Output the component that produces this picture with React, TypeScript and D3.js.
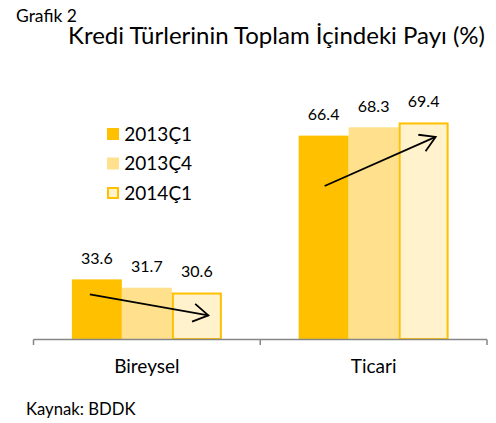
import React from "react";
import * as d3 from "d3";

const categories = ["Bireysel", "Ticari"];
const seriesNames = ["2013Ç1", "2013Ç4", "2014Ç1"];
const values2013Q1 = [33.6, 66.4];
const values2013Q4 = [31.7, 68.3];
const values2014Q1 = [30.6, 69.4];
const seriesValues = [values2013Q1, values2013Q4, values2014Q1];
const fills = ["#FFC000", "#FFE08C", "#FFF2CC"];
const strokes = ["none", "none", "#FFC000"];
// trend arrows: [category index, start (series pos), start value, end (series pos), end value]
const arrows: [number, number, number, number, number][] = [
  [0, 0.36, 30.2, 2.73, 25.4],
  [1, 0.52, 54.9, 2.74, 66.1],
];

const W = 496;
const H = 423;
const FONT = "Lato, 'Noto Sans', sans-serif";

export default function App() {
  const x = d3.scaleBand<string>().domain(categories).range([33.5, 487]).paddingInner(0).paddingOuter(0);
  const xs = d3.scaleBand<string>().domain(seriesNames).range([0, x.bandwidth()]).paddingInner(0).paddingOuter(0.7675);
  const y = d3.scaleLinear().domain([20, 80]).range([339, 76]);
  const bw = xs.bandwidth();
  const posX = (ci: number, p: number) => (x(categories[ci]) as number) + (xs(seriesNames[0]) as number) + p * bw;

  return (
    <svg width={W} height={H} style={{ position: "absolute", left: 0, top: 0, background: "#fff" }}>
      <defs>
        <marker id="arr" viewBox="0 0 20 20" refX="17" refY="10" markerWidth="20" markerHeight="20" markerUnits="userSpaceOnUse" orient="auto">
          <path d="M2,1 L17,10 L2,19" fill="none" stroke="#000" strokeWidth={1.8} />
        </marker>
      </defs>
      <text x={16} y={22} fontFamily={FONT} fontSize={17.5} fill="#000">Grafik 2</text>
      <text x={68} y={43.5} fontFamily={FONT} fontSize={24} fill="#000">Kredi Türlerinin Toplam İçindeki Payı (%)</text>

      {categories.map((c, ci) =>
        seriesNames.map((s, si) => {
          const v = seriesValues[si][ci];
          const bx = (x(c) as number) + (xs(s) as number);
          const top = y(v);
          const hasStroke = strokes[si] !== "none";
          return (
            <g key={c + s}>
              <rect
                x={hasStroke ? bx + 1 : bx}
                y={hasStroke ? top + 1 : top}
                width={hasStroke ? bw - 2 : bw}
                height={hasStroke ? y(20) - top - 1 : y(20) - top}
                fill={fills[si]}
                stroke={strokes[si]}
                strokeWidth={2}
              />
              <text x={bx + bw / 2} y={top - 15.3} textAnchor="middle" fontFamily={FONT} fontSize={16} fill="#000">
                {v.toFixed(1)}
              </text>
            </g>
          );
        })
      )}

      {arrows.map(([ci, p0, v0, p1, v1], i) => (
        <line key={i} x1={posX(ci, p0)} y1={y(v0)} x2={posX(ci, p1)} y2={y(v1)} stroke="#000" strokeWidth={1.8} markerEnd="url(#arr)" />
      ))}

      <line x1={33.5} x2={487} y1={339.5} y2={339.5} stroke="#868686" strokeWidth={1.5} />
      {[33.5, ...categories.map((c) => (x(c) as number) + x.bandwidth())].map((tx, i) => (
        <line key={i} x1={tx} x2={tx} y1={339.5} y2={345} stroke="#868686" strokeWidth={1.5} />
      ))}
      {categories.map((c) => (
        <text key={c} x={(x(c) as number) + x.bandwidth() / 2} y={373.3} textAnchor="middle" fontFamily={FONT} fontSize={19} fill="#000">
          {c}
        </text>
      ))}

      {seriesNames.map((s, si) => (
        <g key={s} transform={`translate(107, ${128 + si * 29.5})`}>
          <rect
            x={strokes[si] !== "none" ? 1 : 0}
            y={strokes[si] !== "none" ? 1 : 0}
            width={strokes[si] !== "none" ? 10 : 12}
            height={strokes[si] !== "none" ? 10 : 12}
            fill={fills[si]}
            stroke={strokes[si]}
            strokeWidth={2}
          />
          <text x={17.3} y={12.7} fontFamily={FONT} fontSize={19} fill="#000">{s}</text>
        </g>
      ))}

      <text x={26} y={415} fontFamily={FONT} fontSize={16.7} fill="#000">Kaynak: BDDK</text>
    </svg>
  );
}
